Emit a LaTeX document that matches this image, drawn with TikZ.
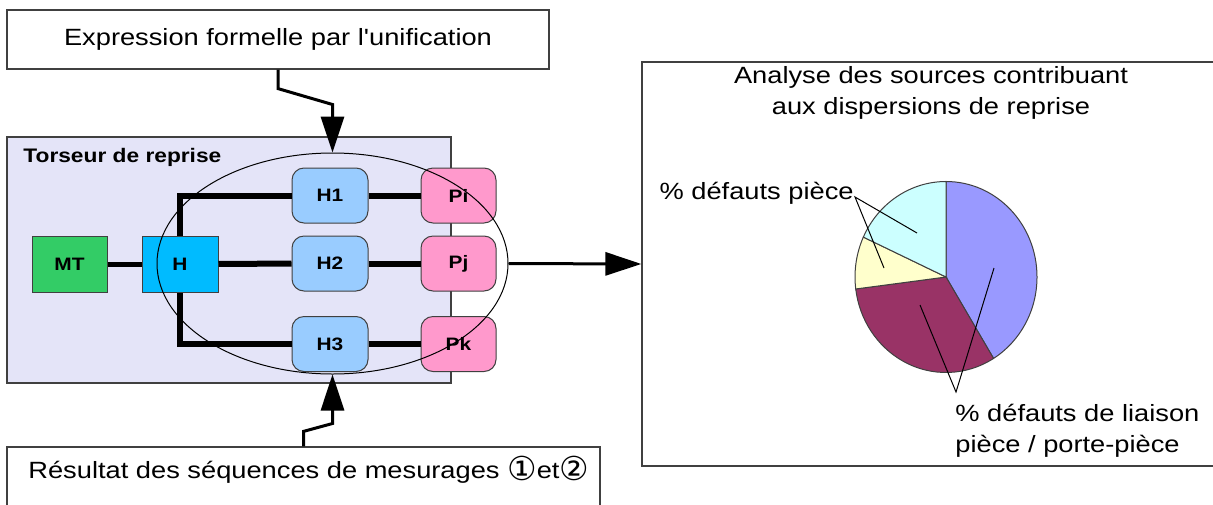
\documentclass[tikz,border=0pt]{standalone}
\usepackage{fontspec}
\setmainfont{Liberation Sans}
\newfontfamily\brut{Liberation Sans}
\newfontfamily\symb{DejaVu Sans}
\usepackage{graphicx}
\usetikzlibrary{positioning, calc, arrows.meta, shapes.geometric}
\definecolor{Lavande}{HTML}{E4E4F8}
\definecolor{Vert}{HTML}{33CC66}
\definecolor{BleuH}{HTML}{00BBFF}
\definecolor{BleuClair}{HTML}{99CCFF}
\definecolor{Rose}{HTML}{FF99CC}
\definecolor{Gris}{HTML}{404040}
\definecolor{PieBleu}{HTML}{9999FF}
\definecolor{PieBordeaux}{HTML}{993366}
\definecolor{PieJaune}{HTML}{FFFFCC}
\definecolor{PieCyan}{HTML}{CCFFFF}
\newcommand{\wid}[1]{\scalebox{1.16}[1]{#1}}
\newcommand{\rond}[1]{{\symb\fontsize{16.5}{16.5}\selectfont\raisebox{-1.2pt}{#1}}}
\tikzset{
    cadre/.style={rectangle, draw=Gris, line width=0.6pt, inner sep=0pt},
    texte/.style={font=\fontsize{11.75}{15.5}\selectfont},
    bloc/.style={rectangle, draw=Gris, line width=0.5pt, inner sep=0pt, minimum width=38pt, minimum height=28pt, font=\fontsize{9}{11}\selectfont\bfseries},
    rbloc/.style={bloc, rounded corners=6pt, minimum height=27.5pt},
    lien/.style={line width=3pt, black},
    fleche/.style={line width=1.5pt, -{Triangle[width=11.5pt, length=18pt]}},
    part/.style={draw=Gris, line width=0.5pt},
    repere/.style={line width=0.5pt, black},
}

\begin{document}
\begin{tikzpicture}[x=0.5pt, y=-0.5pt]
    \useasboundingbox (0,0) rectangle (1213,504);

    % Torseur de reprise
    \node[cadre, fill=Lavande, minimum width=222pt, minimum height=123pt] (torseur) at (229,260) {};
    \node[anchor=west, inner sep=0pt, font=\fontsize{9.8}{12}\selectfont\bfseries] (titre) at (23,157) {\wid{Torseur de reprise}};

    \node[bloc, fill=Vert, minimum width=37.5pt] (MT) at (69.5,264) {\wid{MT}};
    \node[bloc, fill=BleuH] (H) at (180,264) {\wid{H}};
    \node[rbloc, fill=BleuClair] (H1) at (330,195.5) {\wid{H1}};
    \node[rbloc, fill=BleuClair] (H2) at (330,263.5) {\wid{H2}};
    \node[rbloc, fill=BleuClair] (H3) at (330,344) {\wid{H3}};
    \node[rbloc, fill=Rose, minimum width=37.5pt] (Pi) at (458.5,195.5) {\wid{Pi}};
    \node[rbloc, fill=Rose, minimum width=37.5pt] (Pj) at (458.5,263.5) {\wid{Pj}};
    \node[rbloc, fill=Rose, minimum width=37.5pt] (Pk) at (458.5,344) {\wid{Pk}};

    \draw[lien, line width=2.5pt] (MT) -- (H);
    \draw[lien] (H) -- (H2);
    \draw[lien] (H.north) |- (H1.west);
    \draw[lien] (H.south) |- (H3.west);
    \draw[lien] (H1) -- (Pi);
    \draw[lien] (H2) -- (Pj);
    \draw[lien] (H3) -- (Pk);

    \node[ellipse, draw, line width=0.5pt, inner sep=0pt, minimum width=175.5pt, minimum height=110.5pt] (ens) at (332.5,263.5) {};

    % entrees
    \node[cadre, fill=white, texte, minimum width=271pt, minimum height=29.5pt] (expr) at (278,39.5) {\wid{Expression formelle par l{\brut'}unification}};
    \node[cadre, fill=white, minimum width=296.5pt, minimum height=31.5pt] (res) at (303.5,478.5) {};
    \node[texte, anchor=west, inner sep=0pt] (restxt) at (28,470) {\wid{Résultat des séquences de mesurages }\rond{①}\wid{et}\rond{②}};

    \draw[fleche] (expr.south) -- ++(0,19) -- ($(ens.north)+(0,-48)$) -- (ens.north);
    \draw[fleche] (res.north) -- ++(0,-15) -- ($(ens.south)+(0,49)$) -- (ens.south);

    % analyse
    \node[cadre, fill=white, minimum width=290pt, minimum height=202pt] (graphe) at (932,264) {};
    \draw[fleche] (ens.east) -- (graphe.west);
    \node[texte, align=center] (gtitre) at (931,92.5) {\wid{Analyse des sources contribuant}\\\wid{aux dispersions de reprise}};

    \coordinate (pc) at (946,277);
    \foreach \a/\b/\c in {-90/58.5/PieBleu, 58.5/172.8/PieBordeaux, 172.8/204.7/PieJaune, 204.7/270/PieCyan}
        \draw[part, fill=\c] (pc) -- ++(\a:91 and 95.5) arc[start angle=\a, end angle=\b, x radius=91, y radius=95.5] -- cycle;

    \node[texte, anchor=east, inner sep=0pt] (pctpiece) at (854,193) {\wid{\% défauts pièce}};
    \node[texte, anchor=west, align=left, inner sep=0pt] (pctliaison) at (955,431) {\wid{\% défauts de liaison}\\\wid{pièce / porte-pièce}};

    \coordinate (ancreA) at (855,197);
    \coordinate (ancreB) at (956,392);
    \coordinate (ptcyan) at (917,233);
    \coordinate (ptjaune) at (884,268);
    \coordinate (ptbordeaux) at (920,305);
    \coordinate (ptbleu) at (994,268);
    \draw[repere] (ptcyan) -- (ancreA) -- (ptjaune);
    \draw[repere] (ptbordeaux) -- (ancreB) -- (ptbleu);
\end{tikzpicture}
\end{document}
